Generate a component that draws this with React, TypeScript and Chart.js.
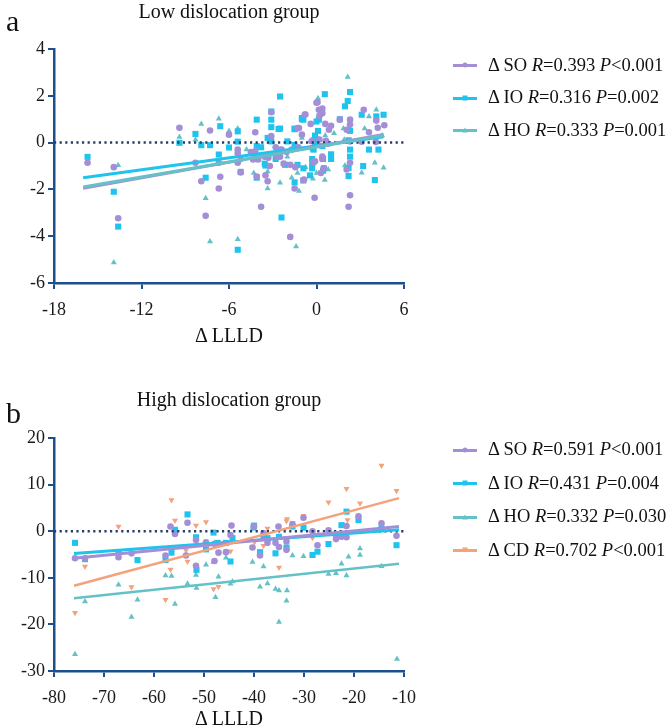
import React, { useEffect, useRef } from 'react';
import { Chart, registerables } from 'chart.js';
Chart.register(...registerables);

type Pt = [number, number];

// ---------- Panel a: Low dislocation group ----------
const lowXTicks = [-18, -12, -6, 0, 6];
const lowYTicks = [-6, -4, -2, 0, 2, 4];
const lowSO: Pt[] = [
  [-15.7, -0.86], [-13.9, -1.05], [-13.6, -3.23], [-9.4, 0.63], [-8.3, -0.86], [-7.9, -1.65], [-7.6, -3.13],
  [-7.3, 0.52], [-6.7, -0.86], [-6.6, -1.46], [-6.7, -1.96], [-6.0, 0.34], [-5.4, -0.45], [-5.4, -0.86],
  [-5.2, -1.28], [-5.4, -0.3], [-5.2, -0.7], [-4.35, -0.72], [-4.2, -0.37], [-4.2, 0.44], [-4.0, -0.72],
  [-4.1, -1.45], [-3.35, -1.65], [-3.5, -1.4], [-3.8, -2.74], [-3.1, 1.3], [-3.1, 0.28], [-2.5, -0.6],
  [-1.8, -4.03], [-1.5, -1.96], [-0.9, -1.6], [-1.2, 0.62], [-0.8, 1.2], [-0.13, -2.36], [0, 1.7],
  [0.35, 1.35], [0.2, 1.15], [-0.1, -0.8], [0.3, -1.3], [3.24, 1.4], [4.1, 0.94], [4.65, 0.74], [4.2, 0.63],
  [3.6, 0.44], [3.1, 0.04], [4.07, 0.03], [2.3, 0.98], [2.3, 0.77], [2.07, 0.55], [1.6, 0.98], [2.3, 0.05],
  [2.3, -0.86], [2.07, -1.15], [2.3, -2.25], [2.2, -2.74], [1.0, 0.72], [0.85, 0.55], [0.4, -0.7],
  [-1.3, 0.62], [-0.76, 1.2], [0.07, 1.72], [0.16, 1.4], [0.4, 1.45], [0.4, 1.25], [-0.4, 0.8], [0.6, 0.8],
  [-0.34, 0.06], [0.2, 0.13], [0.65, 0.08], [0.8, -0.05], [-1.0, 0.34], [-1.25, -0.2], [-1.7, -0.3],
  [-2.05, -0.4], [-2.4, -0.3], [-2.8, -0.2], [-3.3, -0.65], [-3.55, -0.6], [-4.1, -0.7], [-4.5, -0.4],
  [-3.2, -1.0], [-0.85, -1.58], [-0.2, -0.85], [-1.45, -1.05], [-1.8, -0.95], [-2.25, -0.9], [-2.7, -0.6],
  [0.4, -0.6], [0.5, -1.1],
];
const lowIO: Pt[] = [
  [-15.7, -0.61], [-13.9, -2.1], [-13.6, -3.59], [-9.4, -0.01], [-8.3, 0.37], [-7.9, -0.11], [-7.6, -1.5],
  [-7.3, -0.11], [-6.6, 0.7], [-6.7, -0.51], [-6.0, -0.21], [-5.4, 0.48], [-5.4, 0.04], [-5.2, -1.25],
  [-5.4, -4.58], [-4.1, 0.98], [-4.1, -0.15], [-4.1, -0.6], [-4.1, -1.5], [-3.5, -0.98], [-3.1, 1.33],
  [-3.1, 0.98], [-3.1, 0.66], [-3.35, 0.2], [-2.5, 0.6], [-2.5, 1.97], [-2.4, -3.2], [-1.5, -1.7],
  [-0.9, -1.62], [-1.5, 0.57], [-1.0, 1.05], [-0.9, 0.98], [0.57, 2.07], [0.45, -1.2], [-0.3, -0.9],
  [2.3, 2.16], [2.14, 1.78], [1.95, 1.55], [3.1, 1.19], [4.1, 1.12], [4.6, 1.19], [3.6, -0.3], [4.25, -0.3],
  [4.0, -1.6], [3.2, -1.0], [2.3, 0.5], [1.6, 1.0], [2.2, 0.1], [2.3, -0.3], [2.3, -0.6], [2.2, -1.08],
  [2.2, -1.43], [1.0, -0.5], [1.0, -0.7], [0.5, -1.1], [-2.6, 0.58], [-1.5, 0.6], [-1.0, 1.0], [0.0, 0.9],
  [0.16, 0.98], [0.0, 0.13], [-0.1, -0.1], [-0.2, -0.3], [0.4, -0.15], [-1.5, -0.1], [-2.0, 0.05],
  [-2.6, -0.3], [-3.1, 0.05], [-3.8, -0.2], [-4.3, -0.6], [-3.55, -0.9], [-0.45, -1.4], [-0.3, -1.1],
  [-0.9, -1.1], [-1.3, -0.95], [-2.15, -0.95], [-2.8, -0.7], [0.45, -0.7], [-0.3, -0.7], [-0.2, 0.1],
  [-0.1, 0.3], [0.1, 0.5], [-0.25, -0.25],
];
const lowHO: Pt[] = [
  [-13.6, -0.97], [-13.9, -5.12], [-9.4, 0.24], [-7.9, 0.8], [-8.3, 0.12], [-7.6, -2.38], [-7.3, -4.23],
  [-6.7, 1.02], [-6.0, 0.5], [-5.4, 0.6], [-5.4, -4.13], [-4.3, -1.3], [-3.35, -1.23], [-3.35, -1.96],
  [-2.5, -1.72], [-1.4, -4.44], [-1.2, -2.07], [0.1, 1.9], [0.57, -1.6], [2.14, 2.8], [3.6, 1.12],
  [4.1, 1.4], [4.0, -0.86], [4.6, -1.08], [3.1, -1.29], [1.85, 0.6], [2.3, 0.6], [1.9, 0.12], [1.95, -0.98],
  [0.2, 1.1], [-1.7, -1.5], [-0.25, -1.55], [0.0, -1.3], [-1.3, -1.3], [-0.75, -1.05], [0.8, -1.15],
  [-4.8, -0.3], [-2.0, -0.6], [-1.0, 0.2], [0.6, 0.3], [1.2, 0.4], [-3.0, -0.5], [4.5, 0.3], [3.3, 0.6],
];
const lowFitX = [-16, 4.6];
const lowFitSO = [-1.95, 0.35];
const lowFitIO = [-1.5, 0.25];
const lowFitHO = [-1.9, 0.3];

// ---------- Panel b: High dislocation group ----------
const highXTicks = [-80, -70, -60, -50, -40, -30, -20, -10];
const highYTicks = [-30, -20, -10, 0, 10, 20];
const highSO: Pt[] = [
  [-75.8, -5.8], [-73.8, -5.8], [-67.1, -5.6], [-64.5, -4.75], [-57.7, -5.2], [-56.7, 1.0], [-55.8, -0.6],
  [-53.3, 1.8], [-53.6, -5.2], [-51.6, -1.9], [-51.6, -7.4], [-49.6, -2.4], [-47.9, -2.7], [-47.9, -6.4],
  [-47.1, -4.6], [-45.6, -4.5], [-44.5, 1.2], [-44.7, -0.8], [-40.0, 1.0], [-40.3, -3.5], [-38.8, -5.2],
  [-38.1, -0.45], [-37.3, -2.5], [-35.7, -2.5], [-35.1, 1.0], [-35.0, -3.4], [-33.5, -2.2], [-33.5, -4.0],
  [-32.3, 1.5], [-30.1, 2.9], [-28.3, 0.0], [-27.3, -3.0], [-25.1, 0.2], [-23.6, -1.7], [-22.5, -1.2],
  [-21.5, -1.3], [-21.5, 1.1], [-19.1, 3.2], [-14.5, 1.7], [-11.5, -1.0],
];
const highIO: Pt[] = [
  [-75.8, -2.5], [-73.8, -6.0], [-67.1, -4.5], [-63.3, -6.2], [-57.7, -6.2], [-56.5, -4.6], [-55.8, 0.3],
  [-53.3, 3.6], [-51.6, -1.3], [-51.5, -8.3], [-49.6, -3.9], [-48.1, -0.3], [-47.3, -2.5], [-45.6, -2.5],
  [-44.7, -6.5], [-44.3, -1.5], [-40.1, 0.8], [-40.0, 1.2], [-38.8, -4.5], [-38.1, -1.5], [-37.3, -1.5],
  [-35.7, -4.75], [-35.0, -1.2], [-33.5, -3.5], [-32.3, 1.0], [-30.1, 0.75], [-28.3, -5.1], [-27.3, -4.4],
  [-25.1, -2.75], [-23.6, -0.8], [-21.5, 4.2], [-22.5, 1.3], [-19.1, 2.4], [-14.5, 0.6], [-11.5, -3.0],
];
const highHO: Pt[] = [
  [-75.8, -26.4], [-73.8, -15.1], [-67.1, -11.5], [-64.5, -18.4], [-63.3, -14.7], [-57.7, -9.5],
  [-56.5, -9.6], [-55.8, -15.6], [-53.3, -11.3], [-51.6, -9.4], [-51.5, -12.2], [-49.6, -7.2], [-48.1, -6.6],
  [-47.7, -14.2], [-47.1, -9.8], [-45.6, -5.7], [-44.7, -11.3], [-44.3, -10.8], [-40.3, -6.6], [-38.1, -7.6],
  [-38.8, -11.9], [-37.3, -11.2], [-35.7, -12.4], [-35.0, -12.7], [-35.0, -19.5], [-33.4, -12.7],
  [-33.5, -14.9], [-32.3, -5.2], [-30.1, -5.4], [-25.1, -9.2], [-23.6, -9.0], [-22.5, -7.0], [-21.5, -9.5],
  [-21.1, -5.5], [-18.8, -3.7], [-18.8, -5.1], [-14.5, -7.5], [-11.4, -27.4],
];
const highCD: Pt[] = [
  [-75.8, -17.5], [-73.8, -7.6], [-67.1, 1.0], [-64.5, -12.0], [-57.7, -14.7], [-56.5, 6.7], [-56.7, -8.2],
  [-55.8, 2.3], [-53.6, -4.1], [-53.3, -6.5], [-51.6, 1.2], [-49.6, 2.0], [-48.1, -12.4], [-47.1, -4.5],
  [-47.1, -11.9], [-44.7, -4.3], [-39.9, -2.3], [-38.1, -3.1], [-37.3, 0.6], [-35.7, -2.2], [-35.0, -7.8],
  [-33.5, 2.2], [-33.4, 2.6], [-32.3, 1.8], [-30.1, 3.3], [-28.3, -1.4], [-25.1, 6.2], [-21.5, 9.1],
  [-18.8, 6.0], [-14.5, 14.1], [-11.5, 8.7], [-21.3, 2.4],
];
const highFitX = [-76, -11];
const highFitSO = [-5.8, 1.0];
const highFitIO = [-4.8, 0.3];
const highFitHO = [-14.4, -7.0];
const highFitCD = [-11.7, 7.1];

const AXIS = '#1d4f8e';
const ZERO = '#243d6b';
const C_SO = '#a48fd6';
const C_IO = '#1ec4ee';
const C_HO = '#64c1c7';
const C_CD = '#f3a27c';
const FONT = '"Liberation Serif", "Times New Roman", serif';
const TICK_SIZE = 18;

Chart.defaults.font.family = FONT;
Chart.defaults.font.size = TICK_SIZE;
Chart.defaults.color = '#1a1a1a';

const toXY = (a: Pt[]) => a.map(([x, y]) => ({ x, y }));
const fitPts = (xs: number[], ys: number[]) => xs.map((x, i) => ({ x, y: ys[i] }));

type SeriesDef = { data: Pt[]; color: string; style: string; radius: number; rotation?: number; order: number };
type FitDef = { ys: number[]; color: string; width: number };

function Panel(props: {
  top: number; height: number; areaTop: number; areaBottom: number;
  xMin: number; xMax: number; xTicks: number[]; yMin: number; yMax: number; yTicks: number[];
  series: SeriesDef[]; fitX: number[]; fits: FitDef[];
}) {
  const ref = useRef<HTMLCanvasElement>(null);
  useEffect(() => {
    const p = props;
    const datasets: any[] = [];
    p.fits.forEach((f) => {
      datasets.push({
        data: fitPts(p.fitX, f.ys), showLine: true, borderColor: f.color, borderWidth: f.width,
        pointRadius: 0, order: 0, borderCapStyle: 'butt',
      });
    });
    datasets.push({
      data: fitPts([p.xMin, p.xMax], [0, 0]), showLine: true, borderColor: ZERO, borderWidth: 2.5,
      borderDash: [2.2, 3.4], pointRadius: 0, order: 1,
    });
    p.series.forEach((s) => {
      datasets.push({
        data: toXY(s.data), pointStyle: s.style, pointRadius: s.radius, rotation: s.rotation || 0,
        backgroundColor: s.color, borderColor: s.color, borderWidth: 0, order: s.order,
      });
    });
    const chart = new Chart(ref.current!, {
      type: 'scatter',
      data: { datasets },
      options: {
        animation: false, responsive: false, devicePixelRatio: 1,
        font: { family: FONT, size: TICK_SIZE },
        layout: { autoPadding: false, padding: { top: p.areaTop, left: 0, right: 669 - 404, bottom: 0 } },
        plugins: { legend: { display: false }, tooltip: { enabled: false } },
        scales: {
          x: {
            type: 'linear', min: p.xMin, max: p.xMax,
            afterBuildTicks: (s: any) => { s.ticks = p.xTicks.map((v) => ({ value: v })); },
            afterFit: (s: any) => { s.height = p.height - p.areaBottom; },
            ticks: { font: { family: FONT, size: TICK_SIZE }, color: '#1a1a1a', padding: 10, maxRotation: 0 },
            grid: { drawOnChartArea: false, drawTicks: true, tickLength: 6, color: AXIS, lineWidth: 2 },
            border: { color: AXIS, width: 2.5 },
          },
          y: {
            type: 'linear', min: p.yMin, max: p.yMax,
            afterBuildTicks: (s: any) => { s.ticks = p.yTicks.map((v) => ({ value: v })); },
            afterFit: (s: any) => { s.width = 54; },
            ticks: { font: { family: FONT, size: TICK_SIZE }, color: '#1a1a1a', padding: 3 },
            grid: { drawOnChartArea: false, drawTicks: true, tickLength: 6, color: AXIS, lineWidth: 2 },
            border: { color: AXIS, width: 2.5 },
          },
        },
      } as any,
    });
    return () => chart.destroy();
  }, []);
  return (
    <canvas ref={ref} width={669} height={props.height}
      style={{ position: 'absolute', left: 0, top: props.top, width: 669, height: props.height }} />
  );
}

function LegendMarker({ color, style }: { color: string; style: string }) {
  let mark: any = null;
  if (style === 'circle') mark = <div style={{ width: 5, height: 5, borderRadius: '50%', background: color }} />;
  else if (style === 'rect') mark = <div style={{ width: 5, height: 5, background: color }} />;
  else if (style === 'triangle') mark = <div style={{ width: 0, height: 0, borderLeft: '3px solid transparent', borderRight: '3px solid transparent', borderBottom: `5px solid ${color}` }} />;
  else mark = <div style={{ width: 0, height: 0, borderLeft: '3px solid transparent', borderRight: '3px solid transparent', borderTop: `5px solid ${color}` }} />;
  return (
    <div style={{ position: 'relative', width: 24, height: 10, flex: '0 0 24px' }}>
      <div style={{ position: 'absolute', left: 0, right: 0, top: 4, height: 3, background: color }} />
      <div style={{ position: 'absolute', left: '50%', top: '50%', transform: 'translate(-50%,-50%)' }}>{mark}</div>
    </div>
  );
}

function Legend({ top, gap, items }: { top: number; gap: number; items: { color: string; style: string; name: string; r: string; p: string }[] }) {
  return (
    <div style={{ position: 'absolute', left: 453, top }}>
      {items.map((it, i) => (
        <div key={i} style={{ display: 'flex', alignItems: 'center', height: gap, fontSize: 18.5, color: '#111', whiteSpace: 'nowrap' }}>
          <LegendMarker color={it.color} style={it.style} />
          <span style={{ marginLeft: 11 }}>{'\u0394'} {it.name} <i>R</i>={it.r} <i>P</i>{it.p}</span>
        </div>
      ))}
    </div>
  );
}

function Label({ x, y, size, text, center }: { x: number; y: number; size: number; text: string; center?: boolean }) {
  return (
    <div style={{ position: 'absolute', left: x, top: y, fontSize: size, lineHeight: `${size}px`, whiteSpace: 'nowrap', transform: center ? 'translateX(-50%)' : undefined, color: '#111' }}>{text}</div>
  );
}

export default function App() {
  return (
    <div style={{ position: 'fixed', left: 0, top: 0, width: 669, height: 728, background: '#fff', fontFamily: FONT, overflow: 'hidden' }}>
      <Panel top={0} height={330} areaTop={49} areaBottom={283}
        xMin={-18} xMax={6} xTicks={lowXTicks} yMin={-6} yMax={4} yTicks={lowYTicks}
        fitX={lowFitX}
        fits={[{ ys: lowFitHO, color: C_HO, width: 3 }, { ys: lowFitSO, color: C_SO, width: 3 }, { ys: lowFitIO, color: C_IO, width: 3 }]}
        series={[
          { data: lowIO, color: C_IO, style: 'rect', radius: 4.3, order: 3 },
          { data: lowSO, color: C_SO, style: 'circle', radius: 3.3, order: 2 },
          { data: lowHO, color: C_HO, style: 'triangle', radius: 3.5, order: 4 },
        ]} />
      <Panel top={380} height={330} areaTop={58} areaBottom={291}
        xMin={-80} xMax={-10} xTicks={highXTicks} yMin={-30} yMax={20} yTicks={highYTicks}
        fitX={highFitX}
        fits={[{ ys: highFitHO, color: C_HO, width: 2.5 }, { ys: highFitCD, color: C_CD, width: 2.5 }, { ys: highFitSO, color: C_SO, width: 3 }, { ys: highFitIO, color: C_IO, width: 3 }]}
        series={[
          { data: highIO, color: C_IO, style: 'rect', radius: 4.3, order: 3 },
          { data: highSO, color: C_SO, style: 'circle', radius: 3.3, order: 2 },
          { data: highHO, color: C_HO, style: 'triangle', radius: 3.5, order: 4 },
          { data: highCD, color: C_CD, style: 'triangle', radius: 3.5, rotation: 180, order: 5 },
        ]} />
      <Label x={6} y={6} size={30} text="a" />
      <Label x={229} y={1} size={20} text="Low dislocation group" center />
      <Label x={229} y={325} size={20} text={'\u0394 LLLD'} center />
      <Label x={6} y={398} size={30} text="b" />
      <Label x={229} y={389} size={20} text="High dislocation group" center />
      <Label x={229} y={708} size={20} text={'\u0394 LLLD'} center />
      <Legend top={49} gap={32.5} items={[
        { color: C_SO, style: 'circle', name: 'SO', r: '0.393', p: '<0.001' },
        { color: C_IO, style: 'rect', name: 'IO', r: '0.316', p: '=0.002' },
        { color: C_HO, style: 'triangle', name: 'HO', r: '0.333', p: '=0.001' },
      ]} />
      <Legend top={433} gap={33.5} items={[
        { color: C_SO, style: 'circle', name: 'SO', r: '0.591', p: '<0.001' },
        { color: C_IO, style: 'rect', name: 'IO', r: '0.431', p: '=0.004' },
        { color: C_HO, style: 'triangle', name: 'HO', r: '0.332', p: '=0.030' },
        { color: C_CD, style: 'triangleDown', name: 'CD', r: '0.702', p: '<0.001' },
      ]} />
    </div>
  );
}
